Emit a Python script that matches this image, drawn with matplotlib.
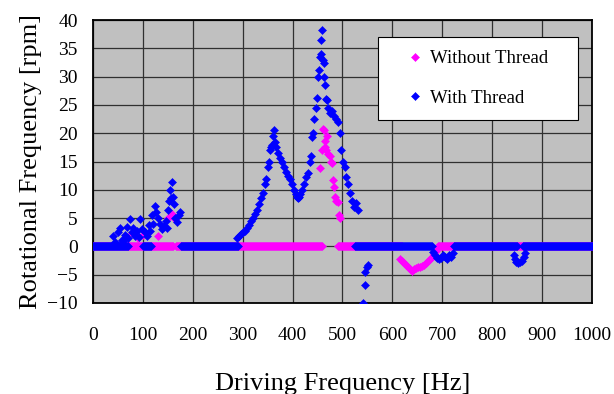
import numpy as np
import matplotlib
matplotlib.use("Agg")
import matplotlib.pyplot as plt

plt.rcParams['font.family'] = ['Liberation Serif', 'DejaVu Serif']

# sweep ranges (Hz) where the measured rotation stayed at 0 rpm
zero_with = [(0, 70), (100, 116), (176, 290), (525, 680), (724, 850), (862, 1000)]
zero_without = [(0, 160), (166, 459), (491, 620), (692, 1000)]

# non-zero readings, With Thread
with_f = [40, 45, 50, 54, 58, 60, 64, 68, 70, 74, 78, 80, 84, 88, 92, 94, 98,
          104, 108, 112, 114, 118, 120, 124, 126, 130, 134, 138, 142, 146, 148,
          150, 152, 154, 156, 158, 160, 162, 164, 168, 172, 174,
          289, 292, 296, 300, 304, 308, 312, 316, 320, 324, 328, 332, 336, 340,
          344, 346, 350, 352, 354, 356, 358, 360, 362, 364, 366, 370, 374, 378,
          382, 386, 390, 394, 398, 402, 406, 408, 410, 412, 414, 418, 422, 426,
          430, 434, 436, 438, 440, 442, 446, 448, 450, 452, 454, 456, 457, 458,
          460, 462, 464, 466, 468, 470, 472, 476, 480, 484, 488, 492, 496, 498,
          502, 506, 508, 512, 516, 520, 524, 528, 532,
          541, 545, 545, 549, 551,
          682, 686, 690, 694, 698, 702, 706, 710, 714, 718, 722,
          844, 846, 848, 852, 856, 860, 864, 866]
with_v = [1.9, 0.8, 2.5, 3.2, 1.2, 1.0, 2.0, 3.5, 1.5, 4.8, 2.5, 3.2, 1.8, 2.8, 1.6, 4.9, 3.0,
          2.5, 1.8, 3.8, 2.8, 5.5, 4.0, 7.2, 6.0, 5.0, 4.0, 3.0, 3.6, 4.5, 3.2,
          6.5, 8.0, 9.9, 8.5, 11.3, 8.7, 7.5, 5.0, 4.3, 5.5, 6.0,
          1.4, 1.8, 2.2, 2.5, 2.8, 3.2, 3.8, 4.5, 5.0, 5.8, 6.5, 7.5, 8.5, 9.5,
          11.0, 12.0, 14.0, 15.0, 17.0, 17.5, 18.0, 19.5, 20.5, 18.5, 17.5, 16.5, 15.7, 15.0,
          14.0, 13.2, 12.5, 12.0, 11.0, 10.0, 9.2, 8.8, 8.5, 8.8, 9.3, 10.0, 11.0, 12.2,
          13.0, 15.0, 16.0, 19.3, 20.0, 22.6, 24.5, 26.3, 30.0, 31.1, 33.4, 34.0, 36.4, 38.2,
          33.0, 32.5, 30.0, 28.5, 26.0, 25.8, 24.5, 23.5, 24.0, 23.0, 22.5, 22.0, 20.0, 17.0,
          15.0, 14.0, 12.2, 11.0, 9.5, 8.1, 7.0, 7.6, 6.5,
          -10.0, -6.9, -4.6, -3.7, -3.2,
          -1.0, -1.5, -2.0, -2.3, -2.0, -1.5, -1.8, -2.2, -1.5, -1.8, -1.2,
          -1.5, -2.3, -2.8, -3.0, -2.8, -2.5, -1.8, -1.2]

# non-zero readings, Without Thread
without_f = [78, 90, 100, 130, 150, 158, 164,
             455, 458, 461, 462, 465, 466, 468, 470, 472, 475, 478, 479, 481,
             483, 485, 488, 491, 494, 495,
             616, 620, 624, 628, 632, 636, 640, 644, 648, 652, 656, 660, 664,
             668, 672, 676, 680, 684, 688]
without_v = [2.3, 1.5, 2.0, 1.8, 5.0, 5.8, 4.9,
             13.8, 17.0, 20.8, 20.5, 18.7, 17.5, 17.0, 19.5, 16.4, 16.0, 15.0, 14.8, 11.7,
             10.5, 8.7, 8.0, 7.8, 5.5, 5.1,
             -2.2, -2.6, -3.0, -3.3, -3.6, -4.0, -4.3, -4.0, -3.8, -3.6, -3.7, -3.5, -3.3,
             -3.0, -2.6, -2.2, -1.8, -1.3, -0.8]


def with_zeros(freqs, vals, ranges):
    zf = np.concatenate([np.arange(a, b + 1, 2) for a, b in ranges])
    f = np.concatenate([zf, freqs])
    v = np.concatenate([np.zeros(len(zf)), vals])
    return f, v


wo_f, wo_v = with_zeros(without_f, without_v, zero_without)
w_f, w_v = with_zeros(with_f, with_v, zero_with)

fig = plt.figure(figsize=(6.14, 3.94), dpi=100)
ax = fig.add_axes([0.1515, 0.231, 0.8125, 0.718])
ax.set_facecolor('#C0C0C0')

ax.plot(wo_f, wo_v, 'D', color='#FF00FF', ms=4.3, mew=0.4, label='Without Thread', zorder=3)
ax.plot(w_f, w_v, 'D', color='#0000FF', ms=4.3, mew=0.4, label='With Thread', zorder=4)

ax.set_xlim(0, 1000)
ax.set_ylim(-10, 40)
ax.set_xticks(np.arange(0, 1001, 100))
ax.set_yticks(np.arange(-10, 41, 5))
ax.grid(True, color='#303030', lw=0.9)
ax.set_axisbelow(True)
ax.tick_params(length=0, labelsize=14)
ax.tick_params(axis='x', pad=17)
ax.tick_params(axis='y', pad=11)
for s in ax.spines.values():
    s.set_linewidth(1.3)
    s.set_color('black')

ax.set_xlabel('Driving Frequency [Hz]', fontsize=19, labelpad=21)
ax.set_ylabel('Rotational Frequency [rpm]', fontsize=19, labelpad=4)

leg = ax.legend(loc='upper left', bbox_to_anchor=(0.571, 0.643, 0.401, 0.297), mode='expand',
                fontsize=13.5, frameon=True, fancybox=False, edgecolor='black', framealpha=1,
                borderpad=0.7, labelspacing=1.2, handletextpad=-0.5, markerscale=0.9,
                handlelength=2.6, borderaxespad=0)
leg.get_frame().set_linewidth(0.8)

fig.savefig('out.png', dpi=100)
